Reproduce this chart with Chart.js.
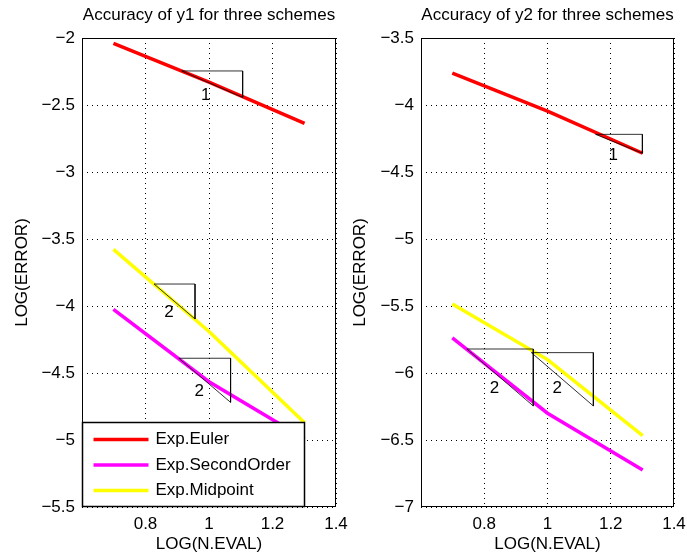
<!DOCTYPE html>
<html>
<head>
<meta charset="utf-8">
<title>Accuracy of three schemes</title>
<script src="https://cdn.jsdelivr.net/npm/chart.js@4.4.1/dist/chart.umd.min.js"></script>
<style>
    html, body { margin: 0; padding: 0; background: #fff; }
    #wrap { position: relative; width: 687px; height: 555px; }
    .panel { position: absolute; top: 0; height: 555px; }
    #panel_y1 { left: 0; width: 365px; }
    #panel_y2 { left: 345px; width: 342px; }
</style>
</head>
<body>
<div id="wrap">
    <div class="panel" id="panel_y1"><canvas id="chart_y1"></canvas></div>
    <div class="panel" id="panel_y2"><canvas id="chart_y2"></canvas></div>
</div>
<script>
// log10 of the number of evaluations (5, 10, 20)
const logEval = [0.699, 1.0, 1.301];

const schemeNames = ['Exp.Euler', 'Exp.SecondOrder', 'Exp.Midpoint'];
const schemeColors = ['#ff0000', '#ff00ff', '#ffff00'];

// log10 of the error, component y1
const y1Euler    = [-2.04, -2.33, -2.637];
const y1Second   = [-4.025, -4.565, -4.99];
const y1Midpoint = [-3.577, -4.19, -4.871];

// log10 of the error, component y2
const y2Euler    = [-3.763, -4.045, -4.36];
const y2Second   = [-5.737, -6.30, -6.724];
const y2Midpoint = [-5.485, -5.90, -6.468];

const xTicks = [0.6, 0.8, 1.0, 1.2, 1.4];
const xTickLabels = ['', '0.8', '1', '1.2', '1.4'];
const y1Ticks = [-2, -2.5, -3, -3.5, -4, -4.5, -5, -5.5];
const y2Ticks = [-3.5, -4, -4.5, -5, -5.5, -6, -6.5, -7];

// slope triangles: [x start, x end], [y top, y bottom], order text and where it sits
const y1Slopes = [
    { xs: [0.914, 1.106], ys: [-2.246, -2.443], text: '1', at: [0.99, -2.43] },
    { xs: [0.827, 0.956], ys: [-3.836, -4.097], text: '2', at: [0.874, -4.05] },
    { xs: [0.905, 1.068], ys: [-4.39, -4.719],  text: '2', at: [0.969, -4.64] }
];
const y2Slopes = [
    { xs: [1.152, 1.30],  ys: [-4.219, -4.36],  text: '1', at: [1.208, -4.373] },
    { xs: [0.745, 0.955], ys: [-5.821, -6.246], text: '2', at: [0.832, -6.114] },
    { xs: [0.949, 1.145], ys: [-5.848, -6.246], text: '2', at: [1.031, -6.114] }
];

Chart.defaults.font.family = '"Liberation Sans", Arial, Helvetica, sans-serif';
Chart.defaults.font.size = 17;
Chart.defaults.color = '#000';

const minus = v => String(v).replace('-', '\u2212');

function schemeDatasets(series) {
    return series.map((vals, i) => ({
        label: schemeNames[i],
        data: logEval.map((x, k) => ({ x: x, y: vals[k] })),
        borderColor: schemeColors[i],
        borderWidth: 3.5,
        pointRadius: 0,
        tension: 0,
        order: 1
    }));
}

function slopeDatasets(slopes) {
    return slopes.map(s => ({
        label: 'slope ' + s.text,
        isSlope: true,
        data: [
            { x: s.xs[0], y: s.ys[0] },
            { x: s.xs[1], y: s.ys[0] },
            { x: s.xs[1], y: s.ys[1] },
            { x: s.xs[0], y: s.ys[0] }
        ],
        borderColor: 'rgba(0,0,0,0.8)',
        borderWidth: 1,
        pointRadius: 0,
        tension: 0,
        order: 0
    }));
}

// no extra room for overhanging tick labels, the sizes are fixed
function noScalePadding(s) {
    s.paddingLeft = 0;
    s.paddingRight = 0;
    s.paddingTop = 0;
    s.paddingBottom = 0;
}

// box, slope numbers and the in-axes legend
const matlabAxes = {
    id: 'matlabAxes',
    afterDatasetsDraw(chart, args, opts) {
        const { ctx, scales: { x, y } } = chart;
        ctx.save();
        ctx.font = '17px "Liberation Sans", Arial, sans-serif';
        ctx.fillStyle = '#000';
        ctx.textAlign = 'center';
        ctx.textBaseline = 'middle';
        opts.slopes.forEach(s => {
            ctx.fillText(s.text, x.getPixelForValue(s.at[0]), y.getPixelForValue(s.at[1]));
        });
        ctx.restore();
    },
    afterDraw(chart, args, opts) {
        const { ctx, chartArea: a } = chart;
        ctx.save();
        ctx.strokeStyle = '#000';
        ctx.lineWidth = 1;
        ctx.strokeRect(Math.round(a.left) + 0.5, Math.round(a.top) + 0.5,
            Math.round(a.right - a.left) - 1, Math.round(a.bottom - a.top) - 1);

        if (opts.legend) {
            const w = 222, h = 84;
            const bx = Math.round(a.left) + 0.5, by = Math.round(a.bottom) - h - 0.5;
            ctx.fillStyle = '#fff';
            ctx.fillRect(bx, by, w, h);
            ctx.lineWidth = 1.5;
            ctx.strokeRect(bx, by, w, h);
            ctx.font = '17px "Liberation Sans", Arial, sans-serif';
            ctx.textBaseline = 'middle';
            ctx.textAlign = 'left';
            chart.data.datasets.filter(d => !d.isSlope).forEach((d, i) => {
                const ry = by + 17 + i * 25.5;
                ctx.strokeStyle = d.borderColor;
                ctx.lineWidth = 3.5;
                ctx.beginPath();
                ctx.moveTo(bx + 11, ry);
                ctx.lineTo(bx + 66, ry);
                ctx.stroke();
                ctx.fillStyle = '#000';
                ctx.fillText(d.label, bx + 73, ry);
            });
        }
        ctx.restore();
    }
};

function makePanel(canvasId, cfg) {
    return new Chart(document.getElementById(canvasId), {
        type: 'line',
        data: { datasets: schemeDatasets(cfg.series).concat(slopeDatasets(cfg.slopes)) },
        plugins: [matlabAxes],
        options: {
            responsive: true,
            maintainAspectRatio: false,
            animation: false,
            events: [],
            layout: { padding: { left: 0, right: cfg.rightPad, top: 0, bottom: 0 } },
            plugins: {
                legend: { display: false },
                tooltip: { enabled: false },
                title: {
                    display: true,
                    text: cfg.title,
                    fullSize: false,
                    color: '#000',
                    font: { size: 17, weight: 'normal' },
                    padding: { top: 5, bottom: 12.6 }
                },
                matlabAxes: { slopes: cfg.slopes, legend: cfg.legend }
            },
            scales: {
                x: {
                    type: 'linear',
                    min: 0.6,
                    max: 1.4,
                    afterBuildTicks: s => { s.ticks = xTicks.map(v => ({ value: v })); },
                    afterFit: s => { s.height = 48; noScalePadding(s); },
                    ticks: {
                        padding: 7,
                        maxRotation: 0,
                        autoSkip: false,
                        callback: (v, i) => xTickLabels[i]
                    },
                    grid: { color: '#000', lineWidth: 1, drawTicks: false },
                    border: { display: false, dash: [1, 4] },
                    title: { display: true, text: 'LOG(N.EVAL)', padding: { top: 0, bottom: 0 } }
                },
                y: {
                    type: 'linear',
                    min: cfg.yTicks[cfg.yTicks.length - 1],
                    max: cfg.yTicks[0],
                    afterBuildTicks: s => { s.ticks = cfg.yTicks.map(v => ({ value: v })); },
                    afterFit: s => { s.width = cfg.yWidth; noScalePadding(s); },
                    ticks: {
                        padding: 7,
                        autoSkip: false,
                        callback: v => minus(v)
                    },
                    grid: { color: '#000', lineWidth: 1, drawTicks: false },
                    border: { display: false, dash: [1, 4] },
                    title: { display: true, text: 'LOG(ERROR)', padding: { top: cfg.yTitlePad, bottom: 0 } }
                }
            }
        }
    });
}

makePanel('chart_y1', {
    title: 'Accuracy of y1 for three schemes',
    series: [y1Euler, y1Second, y1Midpoint],
    slopes: y1Slopes,
    yTicks: y1Ticks,
    yWidth: 82,
    yTitlePad: 12,
    rightPad: 29,
    legend: true
});

makePanel('chart_y2', {
    title: 'Accuracy of y2 for three schemes',
    series: [y2Euler, y2Second, y2Midpoint],
    slopes: y2Slopes,
    yTicks: y2Ticks,
    yWidth: 76,
    yTitlePad: 5,
    rightPad: 13,
    legend: false
});
</script>
</body>
</html>
